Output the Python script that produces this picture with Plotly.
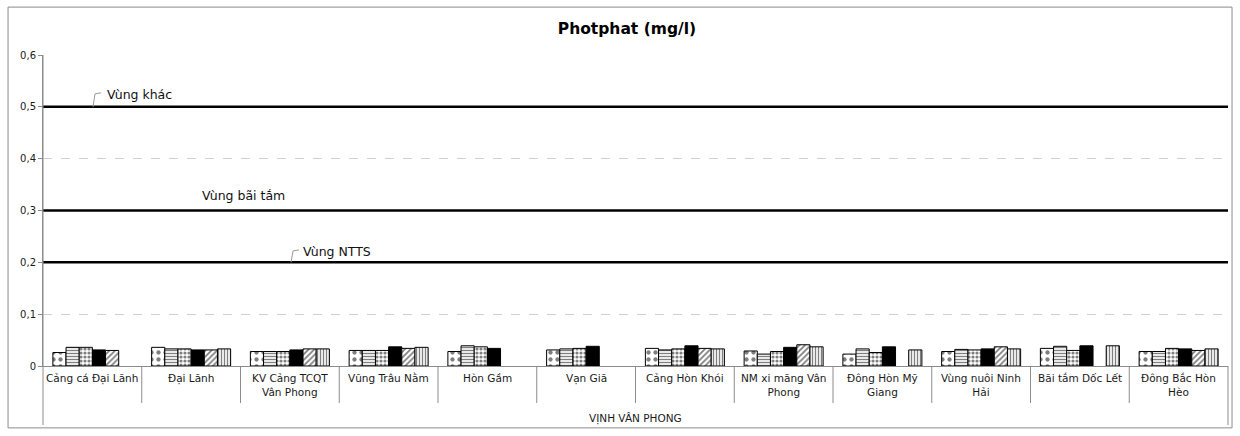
import plotly.graph_objects as go

# Sampling stations in Vịnh Vân Phong
stations = [
    "Cảng cá Đại Lãnh", "Đại Lãnh", "KV Cảng TCQT<br>Vân Phong", "Vũng Trâu Nằm",
    "Hòn Gầm", "Vạn Giã", "Cảng Hòn Khói", "NM xi măng Vân<br>Phong",
    "Đông Hòn Mỹ<br>Giang", "Vùng nuôi Ninh<br>Hải", "Bãi tắm Dốc Lết", "Đông Bắc Hòn<br>Hèo",
]
group_label = "VỊNH VÂN PHONG"

# Phosphate concentration (mg/l) per survey round
round1 = [0.026, 0.036, 0.028, 0.030, 0.028, 0.031, 0.034, 0.029, 0.023, 0.028, 0.034, 0.028]
round2 = [0.036, 0.033, 0.028, 0.030, 0.039, 0.033, 0.031, 0.023, 0.033, 0.032, 0.038, 0.028]
round3 = [0.036, 0.033, 0.028, 0.030, 0.037, 0.034, 0.033, 0.028, 0.026, 0.031, 0.030, 0.034]
round4 = [0.031, 0.031, 0.031, 0.037, 0.034, 0.038, 0.039, 0.036, 0.037, 0.033, 0.039, 0.033]
round5 = [0.030, 0.031, 0.033, 0.034, None, None, 0.034, 0.041, None, 0.037, None, 0.030]
round6 = [None, 0.033, 0.033, 0.036, None, None, 0.033, 0.037, 0.031, 0.033, 0.039, 0.033]
round_names = ["Đợt 1", "Đợt 2", "Đợt 3", "Đợt 4", "Đợt 5", "Đợt 6"]

# Water-quality limits (mg/l)
limit_values = [0.5, 0.3, 0.2]
limit_labels = ["Vùng khác", "Vùng bãi tắm", "Vùng NTTS"]

y_ticks = [0, 0.1, 0.2, 0.3, 0.4, 0.5, 0.6]
y_ticktext = ["0", "0,1", "0,2", "0,3", "0,4", "0,5", "0,6"]

FONT = "DejaVu Sans"

patterns = [
    dict(shape=".", fgcolor="black", bgcolor="white", size=7, solidity=0.3),
    dict(shape="-", fgcolor="black", bgcolor="white", size=3, solidity=0.45),
    dict(shape=".", fgcolor="black", bgcolor="white", size=4, solidity=0.5),
    dict(shape="", fgcolor="black", bgcolor="black"),
    dict(shape="/", fgcolor="black", bgcolor="white", size=4, solidity=0.45),
    dict(shape="|", fgcolor="black", bgcolor="white", size=3, solidity=0.45),
]

fig = go.Figure()
series = [round1, round2, round3, round4, round5, round6]
for name, vals, pat in zip(round_names, series, patterns):
    fig.add_trace(go.Bar(
        x=stations, y=vals, name=name,
        marker=dict(color="black" if pat["shape"] == "" else "white",
                    pattern=pat, line=dict(color="black", width=1)),
    ))

shapes = []
# limit lines across the whole plot
for v in limit_values:
    shapes.append(dict(type="line", xref="paper", yref="y", x0=0, x1=1, y0=v, y1=v,
                       line=dict(color="black", width=2.5), layer="above"))

# category dividers below the axis
for i in range(1, len(stations)):
    shapes.append(dict(type="line", xref="x", yref="paper", x0=i - 0.5, x1=i - 0.5,
                       y0=0, y1=-0.119, line=dict(color="#8c8c8c", width=1)))
# outer dividers (group level)
shapes.append(dict(type="line", xref="paper", yref="paper", x0=0, x1=0, y0=1, y1=-0.19,
                   line=dict(color="#8c8c8c", width=1)))
shapes.append(dict(type="line", xref="paper", yref="paper", x0=1, x1=1, y0=0, y1=-0.19,
                   line=dict(color="#8c8c8c", width=1)))
# chart frame
shapes.append(dict(type="rect", xref="paper", yref="paper", x0=-0.0295, x1=1.0034,
                   y0=-0.199, y1=1.154, line=dict(color="#8c8c8c", width=1)))
# leader lines for two limit labels
shapes.append(dict(type="path", xref="paper", yref="y",
                   path="M 0.0422 0.5 L 0.0439 0.525 L 0.0490 0.527",
                   line=dict(color="#9a9a9a", width=1)))
shapes.append(dict(type="path", xref="paper", yref="y",
                   path="M 0.2093 0.2 L 0.2110 0.222 L 0.2160 0.224",
                   line=dict(color="#9a9a9a", width=1)))

annotations = []
for s in stations:
    annotations.append(dict(x=s, xref="x", y=-0.012, yref="paper", text=s, showarrow=False,
                            yanchor="top", xanchor="center",
                            font=dict(family=FONT, size=10.5, color="#1a1a1a")))
annotations.append(dict(x=0.5, xref="paper", y=-0.168, yref="paper", text=group_label,
                        showarrow=False, yanchor="middle",
                        font=dict(family=FONT, size=10.5, color="#1a1a1a")))

label_pos = [0.0520, 0.1325, 0.2180]
label_offsets = [0.023, 0.029, 0.020]
for xp, v, txt, dy in zip(label_pos, limit_values, limit_labels, label_offsets):
    annotations.append(dict(x=xp, xref="paper", y=v + dy, yref="y", text=txt, showarrow=False,
                            xanchor="left", yanchor="middle",
                            font=dict(family=FONT, size=12.5, color="#111111")))

fig.update_layout(
    width=1240, height=436,
    margin=dict(l=43, r=12, t=55, b=70),
    paper_bgcolor="white", plot_bgcolor="white",
    title=dict(text="<b>Photphat (mg/l)</b>", x=0.5056, xref="container", xanchor="center",
               y=0.934, yanchor="middle",
               font=dict(family=FONT, size=15.5, color="black")),
    showlegend=False,
    barmode="group", bargap=0.2, bargroupgap=0,
    font=dict(family=FONT, size=10, color="#1a1a1a"),
    xaxis=dict(type="category", showticklabels=False, showgrid=False, ticks="",
               showline=True, linecolor="#8c8c8c", linewidth=1, zeroline=False),
    yaxis=dict(range=[0, 0.6], tickvals=y_ticks, ticktext=y_ticktext,
               showgrid=True, gridcolor="#d0d0d0", griddash="dash", gridwidth=1,
               zeroline=False, showline=True, linecolor="#8c8c8c", linewidth=1,
               ticks="outside", ticklen=4, tickcolor="#8c8c8c",
               tickfont=dict(family=FONT, size=10, color="#1a1a1a")),
    shapes=shapes, annotations=annotations,
)

fig.write_html("out.html")
